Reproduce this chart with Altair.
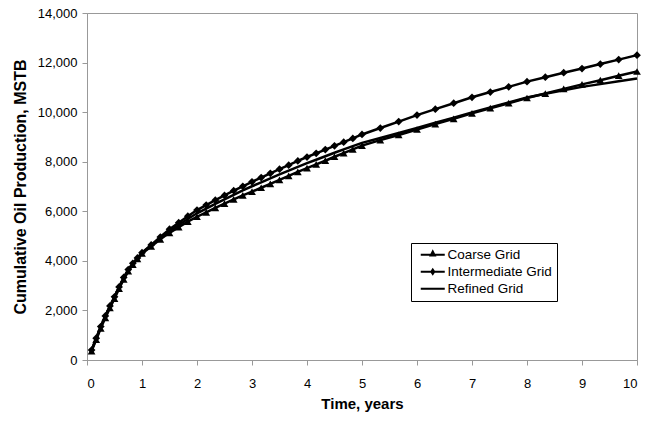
import altair as alt
import pandas as pd

times = [0.083, 0.167, 0.25, 0.333, 0.417, 0.5, 0.583, 0.667, 0.75, 0.833, 0.917, 1.0,
         1.167, 1.333, 1.5, 1.667, 1.833, 2.0, 2.167, 2.333, 2.5, 2.667, 2.833, 3.0,
         3.167, 3.333, 3.5, 3.667, 3.833, 4.0, 4.167, 4.333, 4.5, 4.667, 4.833, 5.0,
         5.333, 5.667, 6.0, 6.333, 6.667, 7.0, 7.333, 7.667, 8.0, 8.333, 8.667, 9.0,
         9.333, 9.667, 10.0]

coarse = [360, 820, 1280, 1700, 2100, 2480, 2880, 3250, 3580, 3850, 4080, 4300,
          4580, 4870, 5130, 5360, 5580, 5780, 5960, 6140, 6310, 6480, 6640, 6790,
          6950, 7110, 7270, 7430, 7590, 7740, 7890, 8040, 8200, 8350, 8500, 8650,
          8870, 9080, 9300, 9520, 9730, 9950, 10160, 10360, 10570, 10750, 10940, 11120,
          11290, 11470, 11640]

intermediate = [400, 880, 1350, 1780, 2180, 2550, 2950, 3330, 3650, 3900, 4120, 4330,
                4640, 4960, 5280, 5540, 5800, 6050, 6250, 6450, 6640, 6830, 7010, 7190,
                7360, 7530, 7700, 7860, 8030, 8190, 8340, 8490, 8640, 8790, 8940, 9100,
                9360, 9620, 9880, 10120, 10360, 10600, 10810, 11020, 11230, 11410, 11590, 11760,
                11940, 12120, 12300]

refined = [400, 870, 1330, 1760, 2160, 2530, 2930, 3300, 3620, 3880, 4100, 4320,
           4620, 4920, 5200, 5450, 5690, 5920, 6110, 6300, 6480, 6660, 6840, 7010,
           7170, 7330, 7490, 7640, 7790, 7940, 8080, 8220, 8360, 8500, 8630, 8760,
           8960, 9160, 9360, 9570, 9780, 9990, 10190, 10390, 10590, 10740, 10880, 11020,
           11130, 11250, 11360]

series_names = ["Coarse Grid", "Intermediate Grid", "Refined Grid"]
x_ticks = list(range(0, 11))
y_ticks = list(range(0, 14001, 2000))

rows = []
for name, vals in zip(series_names, [coarse, intermediate, refined]):
    for t, v in zip(times, vals):
        rows.append({"t": t, "v": v, "series": name})
df = pd.DataFrame(rows)

FONT = "Liberation Sans"

x_enc = alt.X("t:Q", scale=alt.Scale(domain=[0, 10], nice=False),
              axis=alt.Axis(values=x_ticks, title="Time, years", titlePadding=6,
                            labelPadding=12, titleFontSize=15))
y_enc = alt.Y("v:Q", scale=alt.Scale(domain=[0, 14000], nice=False),
              axis=alt.Axis(values=y_ticks, format=",.0f", title="Cumulative Oil Production, MSTB",
                            titlePadding=9, labelPadding=5, titleFontSize=16))

base = alt.Chart(df)

lines = base.mark_line(color="black", strokeWidth=2.5).encode(
    x=x_enc, y=y_enc, detail="series:N"
)

pts = base.transform_filter(
    alt.FieldOneOfPredicate(field="series", oneOf=["Coarse Grid", "Intermediate Grid"])
).mark_point(filled=True, color="black", opacity=1, size=60).encode(
    x=x_enc, y=y_enc,
    shape=alt.Shape("series:N", scale=alt.Scale(domain=["Coarse Grid", "Intermediate Grid"],
                                                range=["triangle-up", "diamond"]), legend=None)
)

legend_paths = [
    "M-2,-0.17L2,-0.17L2,0.17L-2,0.17ZM0,-0.9L0.62,0.3L-0.62,0.3Z",
    "M-2,-0.17L2,-0.17L2,0.17L-2,0.17ZM0,-0.65L0.45,0L0,0.65L-0.45,0Z",
    "M-2,-0.17L2,-0.17L2,0.17L-2,0.17Z",
]

leg = base.mark_point(filled=True, opacity=0, color="black").encode(
    x=x_enc, y=y_enc,
    shape=alt.Shape("series:N",
                    scale=alt.Scale(domain=series_names, range=legend_paths),
                    legend=alt.Legend(
                        title=None, orient="none", legendX=324, legendY=230,
                        symbolSize=144, symbolOpacity=1, symbolFillColor="black",
                        symbolStrokeWidth=0,
                        symbolOffset=10, labelOffset=8,
                        labelFont=FONT, labelFontSize=13.5, labelColor="black",
                        rowPadding=2, padding=5,
                        strokeColor="black", fillColor="white",
                    )),
)

chart = alt.layer(lines, pts, leg).resolve_scale(shape="independent").properties(
    width=550, height=347,
    autosize=alt.AutoSizeParams(type="none"),
    padding={"left": 87, "top": 13, "right": 8, "bottom": 61},
).configure_view(stroke="#999999", strokeWidth=1).configure_axis(
    grid=False, domainColor="#999999", tickColor="#999999", tickSize=5,
    labelFont=FONT, labelFontSize=13, labelColor="black",
    titleFont=FONT, titleFontWeight="bold", titleColor="black",
)

chart.save("out.html", embed_options={"renderer": "svg", "actions": False})
